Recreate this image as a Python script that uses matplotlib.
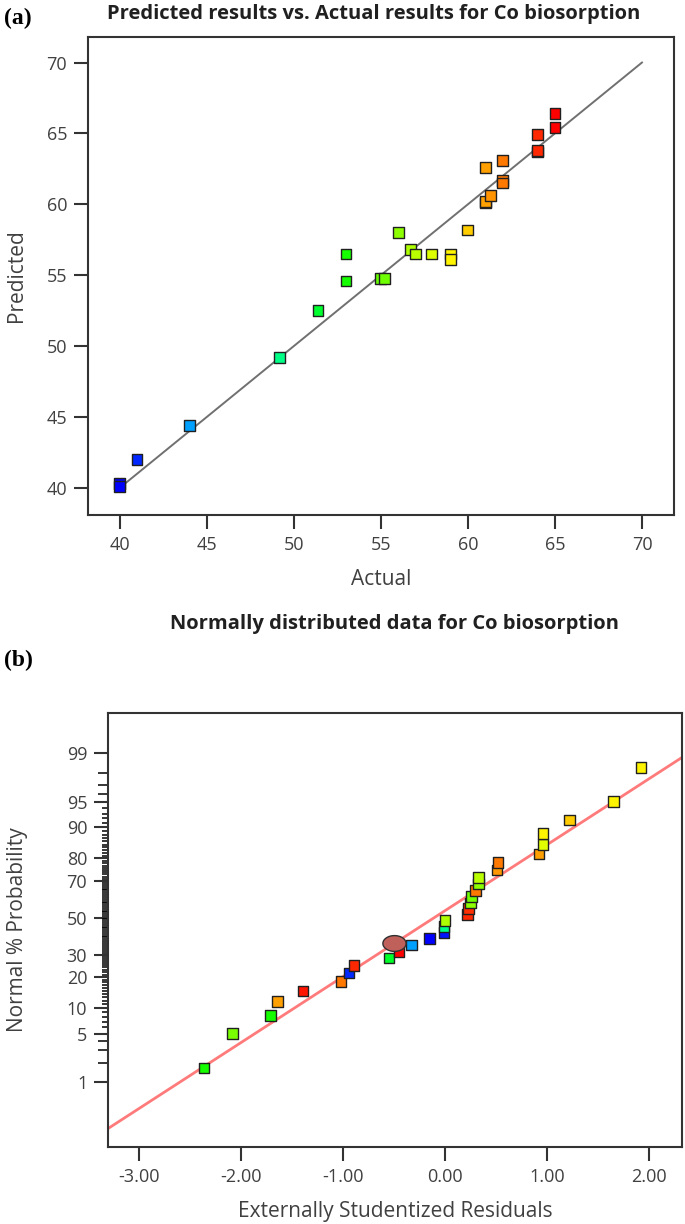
import math
import numpy as np
import matplotlib
matplotlib.use('Agg')
import matplotlib.pyplot as plt
from matplotlib.colors import LinearSegmentedColormap, Normalize
from matplotlib.ticker import FixedLocator, FixedFormatter

plt.rcParams['font.family'] = ['Open Sans', 'DejaVu Sans']

# (a) predicted vs actual
actual = [40, 40, 41, 44, 49.2, 51.4, 53, 53, 55, 55.2, 56, 56.7, 57, 57.9, 59, 59,
          60, 61, 61, 61.3, 61, 62, 62, 62, 64, 64, 64, 65, 65]
predicted = [40.3, 40.1, 42.0, 44.4, 49.2, 52.5, 54.6, 56.5, 54.8, 54.8, 58.0, 56.8, 56.5, 56.5,
             56.5, 56.1, 58.2, 60.1, 60.2, 60.6, 62.6, 63.1, 61.7, 61.5, 63.7, 63.8, 64.9, 65.4, 66.4]
diag = [40, 70]

# (b) normal probability of externally studentized residuals (sorted)
residuals = [-2.36, -2.08, -1.71, -1.64, -1.39, -1.02, -0.94, -0.89, -0.55, -0.45,
             -0.33, -0.15, -0.01, -0.01, 0.0, 0.22, 0.23, 0.25, 0.26, 0.30,
             0.33, 0.33, 0.51, 0.52, 0.92, 0.96, 0.96, 1.22, 1.65, 1.92]
resid_response = [53, 55.5, 53, 61, 64.5, 62, 41, 64, 51.5, 65,
                  44, 40, 40.5, 49.2, 56.7, 64, 63.8, 56, 55.3, 62,
                  56, 57, 61.2, 62, 61, 58, 59, 60, 59, 59]
highlight_resid = -0.50
highlight_pct = 36.0
line_resid = [-3.30, 2.32]
line_pct = [0.14, 98.84]
prob_major = [1, 5, 10, 20, 30, 50, 70, 80, 90, 95, 99]
prob_medium = [2, 3, 4, 96, 97, 98]
prob_minor = [v for v in range(2, 99) if v not in prob_major]
resid_ticks = [-3, -2, -1, 0, 1, 2]

cmap = LinearSegmentedColormap.from_list('de', ['#0000ff', '#00ffff', '#00ff00', '#ffff00', '#ff0000'])
norm = Normalize(40, 65)

# normal probability scale helpers
zgrid = np.linspace(-7, 7, 20001)
pgrid = 50 * (1 + np.vectorize(math.erf)(zgrid / math.sqrt(2)))


def to_z(p):
    return np.interp(np.asarray(p, dtype=float), pgrid, zgrid)


def to_p(z):
    return np.interp(np.asarray(z, dtype=float), zgrid, pgrid)


dark = '#333333'
txt = '#404040'

fig = plt.figure(figsize=(6.85, 12.24), dpi=100)
ax1 = fig.add_axes([88/685, 1-515/1224, (674-88)/685, (515-37)/1224])
ax2 = fig.add_axes([108/685, 1-1147/1224, (682-108)/685, (1147-713)/1224])

# ---- (a)
ax1.plot(diag, diag, color='#707070', lw=1.4, zorder=2)
ax1.scatter(actual, predicted, c=actual, cmap=cmap, norm=norm, marker='s', s=60,
            edgecolors='#202020', linewidths=1.0, zorder=3)
ax1.set_xlim(38.19, 71.84)
ax1.set_ylim(38.1, 71.8)
ax1.set_xticks([40, 45, 50, 55, 60, 65, 70])
ax1.set_yticks([40, 45, 50, 55, 60, 65, 70])
ax1.set_xlabel('Actual', fontsize=15, color=txt, labelpad=11)
ax1.set_ylabel('Predicted', fontsize=15, color=txt, labelpad=14)

# ---- (b)
ax2.set_yscale('function', functions=(to_z, to_p))
ax2.plot(line_resid, line_pct, color='#ff7b7b', lw=2.0, zorder=2)
n = len(residuals)
pct = (np.arange(1, n + 1) - 0.5) / n * 100
ax2.scatter(residuals, pct, c=resid_response, cmap=cmap, norm=norm, marker='s', s=58,
            edgecolors='#202020', linewidths=1.0, zorder=3)
t = np.linspace(0, 2 * np.pi, 60)
ell = np.column_stack([np.cos(t), 0.68 * np.sin(t)])
ax2.scatter([highlight_resid], [highlight_pct], marker=ell, s=280, color='#c0605a',
            edgecolors='#303030', linewidths=1.0, zorder=4)
ax2.set_xlim(-3.30, 2.32)
ax2.set_ylim(to_p(-3.25), to_p(2.9))
ax2.xaxis.set_major_locator(FixedLocator(resid_ticks))
ax2.xaxis.set_major_formatter(FixedFormatter(['%.2f' % v for v in resid_ticks]))
ax2.set_xlabel('Externally Studentized Residuals', fontsize=15, color=txt, labelpad=11)
ax2.set_ylabel('Normal % Probability', fontsize=15, color=txt, labelpad=28)

for ax in (ax1, ax2):
    for s in ax.spines.values():
        s.set_color(dark)
        s.set_linewidth(1.5)
    ax.tick_params(which='major', direction='out', length=10, width=1.5, color=dark,
                   labelsize=13, labelcolor=txt, pad=5)

ax2.set_yticks([float(v) for v in prob_major], [str(v) for v in prob_major])
ax2.set_yticks([float(v) for v in prob_minor], minor=True)
ax2.yaxis.remove_overlapping_locs = False
minor_locs = ax2.yaxis.get_minorticklocs()
for tk, v in zip(ax2.yaxis.get_minor_ticks(len(minor_locs)), minor_locs):
    tk.tick1line.set_markersize(7 if int(round(v)) in prob_medium else 4.5)
    tk.tick1line.set_markeredgewidth(1.1)
    tk.tick1line.set_color(dark)
    tk.tick1line.set_marker(matplotlib.lines.TICKLEFT)
    tk.tick2line.set_visible(False)

fig.text(374/685, 1-14/1224, 'Predicted results vs. Actual results for Co biosorption',
         ha='center', va='center', fontsize=14.5, fontweight='bold', color='#202020')
fig.text(395/685, 1-624/1224, 'Normally distributed data for Co biosorption',
         ha='center', va='center', fontsize=14.5, fontweight='bold', color='#202020')
fig.text(4/685, 1-18/1224, '(a)', ha='left', va='center', fontsize=17, fontweight='bold',
         family=['Liberation Serif', 'DejaVu Serif'], color='black')
fig.text(4/685, 1-660/1224, '(b)', ha='left', va='center', fontsize=17, fontweight='bold',
         family=['Liberation Serif', 'DejaVu Serif'], color='black')

fig.savefig('out.png', dpi=100)
